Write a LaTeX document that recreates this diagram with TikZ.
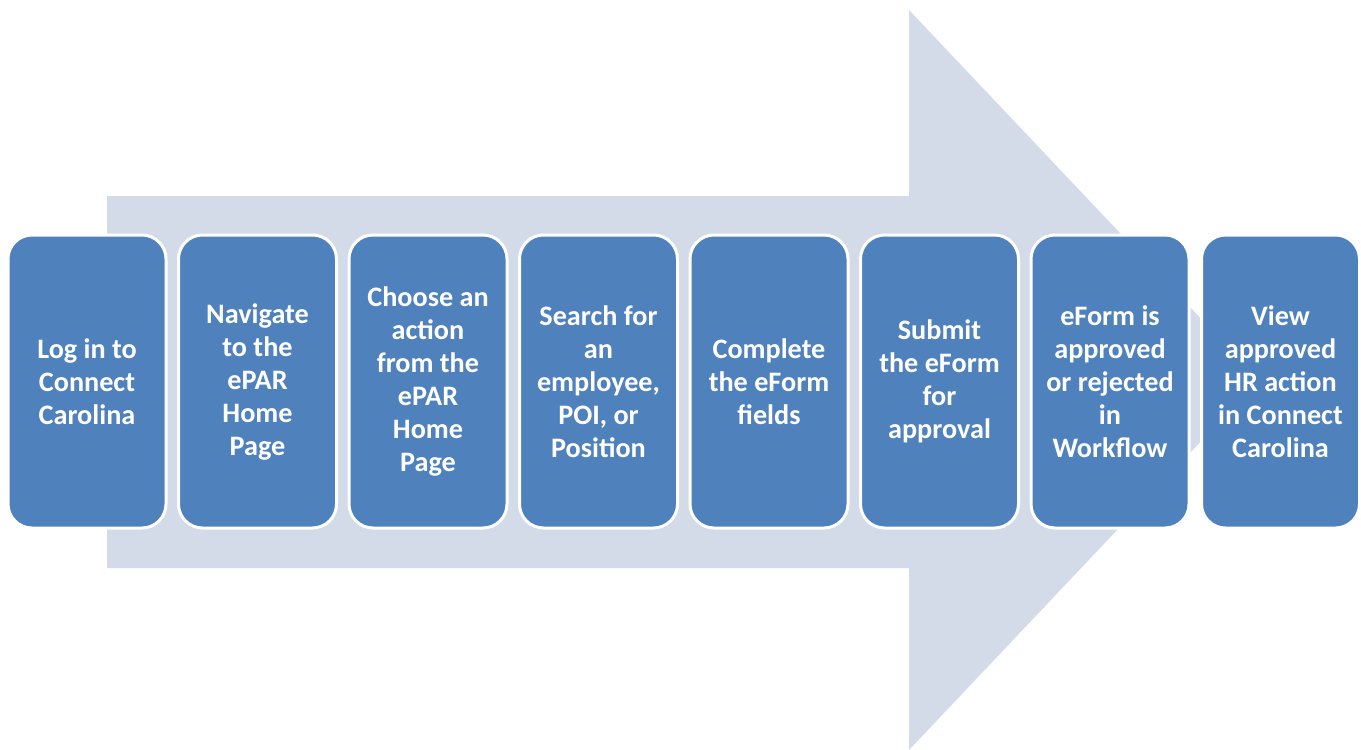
\documentclass[tikz,border=0pt]{standalone}
\usepackage{fontspec}
\setmainfont{Carlito}
\usetikzlibrary{positioning}
\definecolor{stepBlue} {RGB}{79, 129, 189}
\definecolor{flowGrey} {RGB}{211, 218, 232}

\begin{document}
\begin{tikzpicture}[
  x=0.5pt, y=-0.5pt,
  node distance = 0pt and 6.25pt,
  stepbox/.style = {
    rectangle, rounded corners=12pt,
    minimum width=79pt, minimum height=146.5pt,
    inner sep=0pt, outer sep=0pt,
    align=center, text=white,
    font=\bfseries\fontsize{14.1}{16.5}\selectfont,
    fill=stepBlue, draw=white, line width=1.5pt
  }
]
  \useasboundingbox (0,0) rectangle (1361,750);

  % big background arrow
  \fill[flowGrey] (107,196) -- (909,196) -- (909,10) -- (1259,380)
    -- (909,750) -- (909,568) -- (107,568) -- cycle;

  \node[stepbox] (login) at (87,381.5) {Log in to\\Connect\\Carolina};
  \node[stepbox, right=of login]    (nav)      {Navigate\\to the\\ePAR\\Home\\Page};
  \node[stepbox, right=of nav]      (choose)   {Choose an\\action\\from the\\ePAR\\Home\\Page};
  \node[stepbox, right=of choose]   (search)   {Search for\\an\\employee,\\POI, or\\Position};
  \node[stepbox, right=of search]   (complete) {Complete\\the eForm\\fields};
  \node[stepbox, right=of complete] (submit)   {Submit\\the eForm\\for\\approval};
  \node[stepbox, right=of submit]   (approve)  {eForm is\\approved\\or rejected\\in\\Workflow};
  \node[stepbox, right=of approve]  (view)     {View\\approved\\HR action\\in Connect\\Carolina};
\end{tikzpicture}
\end{document}
